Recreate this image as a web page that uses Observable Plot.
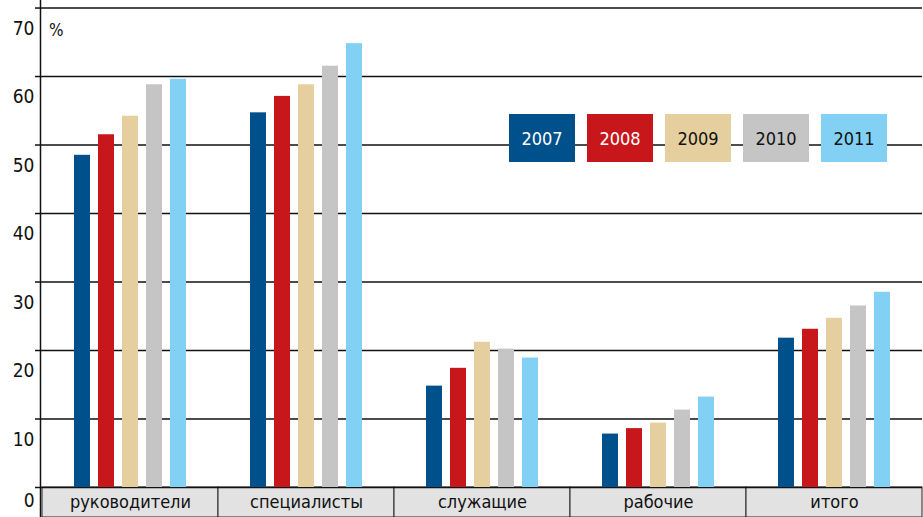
<!DOCTYPE html>
<html><head><meta charset="utf-8">
<script src="https://cdn.jsdelivr.net/npm/d3@7"></script>
<script src="https://cdn.jsdelivr.net/npm/@observablehq/plot@0.6"></script>
<style>
body{margin:0;background:#fff;}
#wrap{position:relative;width:923px;height:517px;overflow:hidden;font-family:"Liberation Sans Narrow","DejaVu Sans Condensed",Roboto,sans-serif;font-stretch:condensed;}
#legend{position:absolute;left:509px;top:114px;display:flex;gap:12px;}
#legend div{width:66px;height:48px;display:flex;align-items:center;justify-content:center;font-size:18px;}
#pct{position:absolute;left:49px;top:20px;font-size:17px;color:#111;}
</style></head><body><div id="wrap"><div id="pct">%</div><div id="legend"></div></div>
<script>
const categories = ["руководители", "специалисты", "служащие", "рабочие", "итого"];
const years = ["2007", "2008", "2009", "2010", "2011"];
const v2007 = [48.5, 54.7, 14.8, 7.8, 21.8];
const v2008 = [51.5, 57.1, 17.4, 8.6, 23.1];
const v2009 = [54.2, 58.8, 21.2, 9.4, 24.7];
const v2010 = [58.8, 61.5, 20.2, 11.3, 26.5];
const v2011 = [59.6, 64.8, 18.9, 13.2, 28.5];
const colors = ["#00508b", "#c8171a", "#e6cf9e", "#c4c5c4", "#82d0f4"];
const legendText = ["#fff", "#fff", "#111", "#111", "#111"];
const yTicks = [0, 10, 20, 30, 40, 50, 60, 70];

const series = [v2007, v2008, v2009, v2010, v2011];
const data = categories.flatMap((c, i) => years.map((y, j) => ({category: c, year: y, value: series[j][i]})));
const font = '"Liberation Sans Narrow","DejaVu Sans Condensed",Roboto,sans-serif';

const chart = Plot.plot({
  width: 923, height: 517,
  marginLeft: 40, marginRight: 0, marginTop: 0, marginBottom: 0,
  style: {fontFamily: font, fontSize: "17px", color: "#111", background: "#fff"},
  fx: {domain: categories, padding: 0, axis: null, label: null},
  x: {domain: years, paddingInner: 0.34, paddingOuter: 1.3, axis: null, label: null},
  y: {domain: [-4.38, 71.1], axis: null, label: null},
  color: {domain: years, range: colors},
  marks: [
    Plot.rect(categories, {fx: d => d, y1: -4.38, y2: 0, fill: "#e2e2e2", stroke: "#222", strokeWidth: 1}),
    Plot.text(categories, {fx: d => d, y: -2.19, text: d => d, fontSize: 18, fill: "#111"}),
    Plot.ruleY(yTicks, {stroke: "#111", strokeWidth: 1.5}),
    Plot.barY(data, {fx: "category", x: "year", y: "value", fill: "year"}),
    Plot.axisY(yTicks, {tickSize: 7, tickPadding: 1, strokeWidth: 1.5, stroke: "#111", textStroke: "none", fontSize: 19, label: null, tickFormat: d => String(d)}),
  ]
});
// shift tick labels below their gridlines as in the reference
d3.select(chart).selectAll("[aria-label='y-axis tick label'] text")
  .attr("dy", function() { return this.textContent === "0" ? "0.7em" : "1.1em"; });
// y-axis spine (decoration along the frame's left edge)
d3.select(chart).append("line")
  .attr("x1", 40.5).attr("x2", 40.5).attr("y1", 0).attr("y2", 517)
  .attr("stroke", "#111").attr("stroke-width", 1.5);
const wrap = document.getElementById("wrap");
wrap.insertBefore(chart, wrap.firstChild);
const legend = document.getElementById("legend");
years.forEach((y, i) => {
  const d = document.createElement("div");
  d.textContent = y;
  d.style.background = colors[i];
  d.style.color = legendText[i];
  legend.appendChild(d);
});
</script>
</body></html>
